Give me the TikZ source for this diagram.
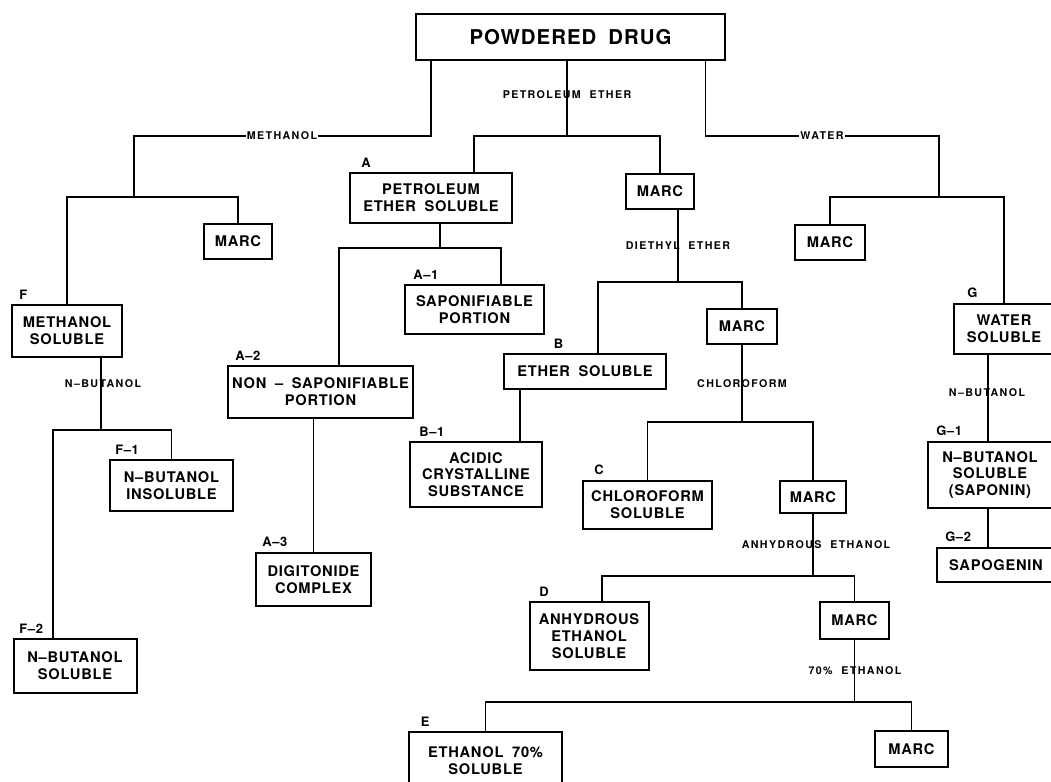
\documentclass[tikz,border=0pt]{standalone}
\usepackage{fontspec}
\setmainfont{TeX Gyre Heros}[LetterSpace=5, WordSpace=1.8]
\newfontfamily\solvfont{TeX Gyre Heros}[LetterSpace=13, WordSpace=2]
\usepackage{tikz}
\usetikzlibrary{positioning}

\begin{document}
\begin{tikzpicture}[x=0.75pt, y=-0.75pt,
  box/.style={draw, line width=1.5pt, align=center, inner sep=0pt, font=\fontsize{11}{12.6}\selectfont\bfseries},
  wh/.style 2 args={minimum width=#1*0.75pt, minimum height=#2*0.75pt},
  tag/.style={inner sep=0pt, font=\fontsize{9.7}{10}\selectfont\bfseries},
  solvent/.style={inner sep=1pt, font=\solvfont\fontsize{8}{9}\selectfont\bfseries},
  conn/.style={line width=1pt}
]
\useasboundingbox (0,0) rectangle (1051,782);

% boxes
\node[box, wh={309}{46}, font=\fontsize{15.3}{16}\selectfont\bfseries] (drug) at (570.5,37) {POWDERED DRUG};
\node[box, wh={68}{35}] (marcM) at (238,241.5) {MARC};
\node[box, wh={162}{50}] (petsol) at (431,198) {PETROLEUM\\ETHER SOLUBLE};
\node[box, wh={68}{35}] (marcP) at (660,191.5) {MARC};
\node[box, wh={70}{35}] (marcW) at (830,242.5) {MARC};
\node[box, wh={110}{52}] (methsol) at (67,331) {METHANOL\\SOLUBLE};
\node[box, wh={139}{49}] (sapo) at (474.5,309.5) {SAPONIFIABLE\\PORTION};
\node[box, wh={185}{52}] (nonsapo) at (320.5,392) {NON – SAPONIFIABLE\\PORTION};
\node[box, wh={162}{35}] (ethsol) at (585,371.5) {ETHER SOLUBLE};
\node[box, wh={70}{35}] (marcE) at (742,326.5) {MARC};
\node[box, wh={100}{50}] (watsol) at (1004,329) {WATER\\SOLUBLE};
\node[box, wh={123}{51}] (butinsol) at (171.5,485.5) {N–BUTANOL\\INSOLUBLE};
\node[box, wh={132}{65}] (acidic) at (476,474.5) {ACIDIC\\CRYSTALLINE\\SUBSTANCE};
\node[box, wh={129}{48}] (chlsol) at (647.5,505) {CHLOROFORM\\SOLUBLE};
\node[box, wh={66}{32}] (marcC) at (813,497) {MARC};
\node[box, wh={124}{66}] (saponin) at (990,475) {N–BUTANOL\\SOLUBLE\\(SAPONIN)};
\node[box, wh={118}{34}] (sapogenin) at (996,565) {SAPOGENIN};
\node[box, wh={115}{53}] (digit) at (313.5,579.5) {DIGITONIDE\\COMPLEX};
\node[box, wh={123}{54}] (butsol) at (75,666) {N–BUTANOL\\SOLUBLE};
\node[box, wh={119}{68}] (anhsol) at (589,636) {ANHYDROUS\\ETHANOL\\SOLUBLE};
\node[box, wh={69}{37}] (marcA) at (854.5,620.5) {MARC};
\node[box, wh={153}{58}] (eth70) at (485.5,761) {ETHANOL 70\%\\SOLUBLE};
\node[box, wh={73}{36}] (marcS) at (911.5,749) {MARC};

% letters over the boxes
\node[tag, above right=3.5pt and 9pt of petsol.north west] (tA) {A};
\node[tag, above right=3.5pt and 6.75pt of sapo.north west] (tA1) {A–1};
\node[tag, above right=3.5pt and 6pt of nonsapo.north west] (tA2) {A–2};
\node[tag, above right=3.5pt and 5.25pt of digit.north west] (tA3) {A–3};
\node[tag, above right=3.5pt and 38pt of ethsol.north west] (tB) {B};
\node[tag, above right=3.5pt and 7.5pt of acidic.north west] (tB1) {B–1};
\node[tag, above right=3.5pt and 9pt of chlsol.north west] (tC) {C};
\node[tag, above right=3.5pt and 8pt of anhsol.north west] (tD) {D};
\node[tag, above right=3.5pt and 9.5pt of eth70.north west] (tE) {E};
\node[tag, above right=3.5pt and 6pt of methsol.north west] (tF) {F};
\node[tag, above right=3.5pt and 4.5pt of butinsol.north west] (tF1) {F–1};
\node[tag, above right=3.5pt and 5pt of butsol.north west] (tF2) {F–2};
\node[tag, above right=3.5pt and 10.5pt of watsol.north west] (tG) {G};
\node[tag, above right=3.5pt and 6.75pt of saponin.north west] (tG1) {G–1};
\node[tag, above right=3.5pt and 6.75pt of sapogenin.north west] (tG2) {G–2};

% junctions
\coordinate (dm) at (431,136);
\coordinate (mj) at (134,197);
\coordinate (pe) at (567,136);
\coordinate (peL) at (474,136);
\coordinate (dw) at (705.5,136);
\coordinate (wj) at (939,197);
\coordinate (aj) at (440,248);
\coordinate (aL) at (339,248);
\coordinate (aR) at (501,248);
\coordinate (de) at (678,282);
\coordinate (deL) at (598,282);
\coordinate (b1) at (520,400);
\coordinate (cj) at (742,422);
\coordinate (dj) at (813,576);
\coordinate (djL) at (602,576);
\coordinate (ej) at (855,702);
\coordinate (fj) at (101,430);
\coordinate (fjL) at (53,430);
\coordinate (gx) at (988,400);

% connectors
\draw[conn] (drug.south -| dm) -- (dm) -| (mj);
\draw[conn] (methsol.north) |- (mj) -| (marcM.north);
\draw[conn] (drug.south -| pe) -- (pe);
\draw[conn] (petsol.north -| peL) |- (pe) -| (marcP.north);
\draw[conn] (drug.south -| dw) -- (dw) -| (wj);
\draw[conn] (marcW.north) |- (wj) -| (watsol.north);
\draw[conn] (petsol.south -| aj) -- (aj);
\draw[conn] (nonsapo.north -| aL) |- (aj) -| (sapo.north -| aR);
\draw[conn] (nonsapo.south -| digit.north) -- (digit.north);
\draw[conn] (marcP.south -| de) -- (de);
\draw[conn] (ethsol.north -| deL) |- (de) -| (marcE.north);
\draw[conn] (ethsol.south -| b1) -- (acidic.north -| b1);
\draw[conn] (marcE.south) -- (cj);
\draw[conn] (chlsol.north) |- (cj) -| (marcC.north);
\draw[conn] (marcC.south) -- (dj);
\draw[conn] (anhsol.north -| djL) |- (dj) -| (marcA.north);
\draw[conn] (marcA.south) -- (marcA.south |- ej);
\draw[conn] (eth70.north) |- (ej) -| (marcS.north);
\draw[conn] (methsol.south -| fj) -- (fj);
\draw[conn] (butsol.north -| fjL) |- (fj) -| (butinsol.north);
\draw[conn] (watsol.south -| gx) -- (saponin.north -| gx);
\draw[conn] (saponin.south -| gx) -- (sapogenin.north -| gx);

% solvents
\node[solvent, fill=white] (lmeth) at (282,136) {METHANOL};
\node[solvent] (lpet) at (567,95) {PETROLEUM ETHER};
\node[solvent, fill=white] (lwat) at (822,136) {WATER};
\node[solvent] (ldiet) at (678,246) {DIETHYL ETHER};
\node[solvent] (lchl) at (742,384) {CHLOROFORM};
\node[solvent] (lanh) at (816,545) {ANHYDROUS ETHANOL};
\node[solvent] (l70) at (855,671) {70\% ETHANOL};
\node[solvent] (lbutF) at (103,384) {N–BUTANOL};
\node[solvent] (lbutG) at (987,393) {N–BUTANOL};
\end{tikzpicture}
\end{document}
